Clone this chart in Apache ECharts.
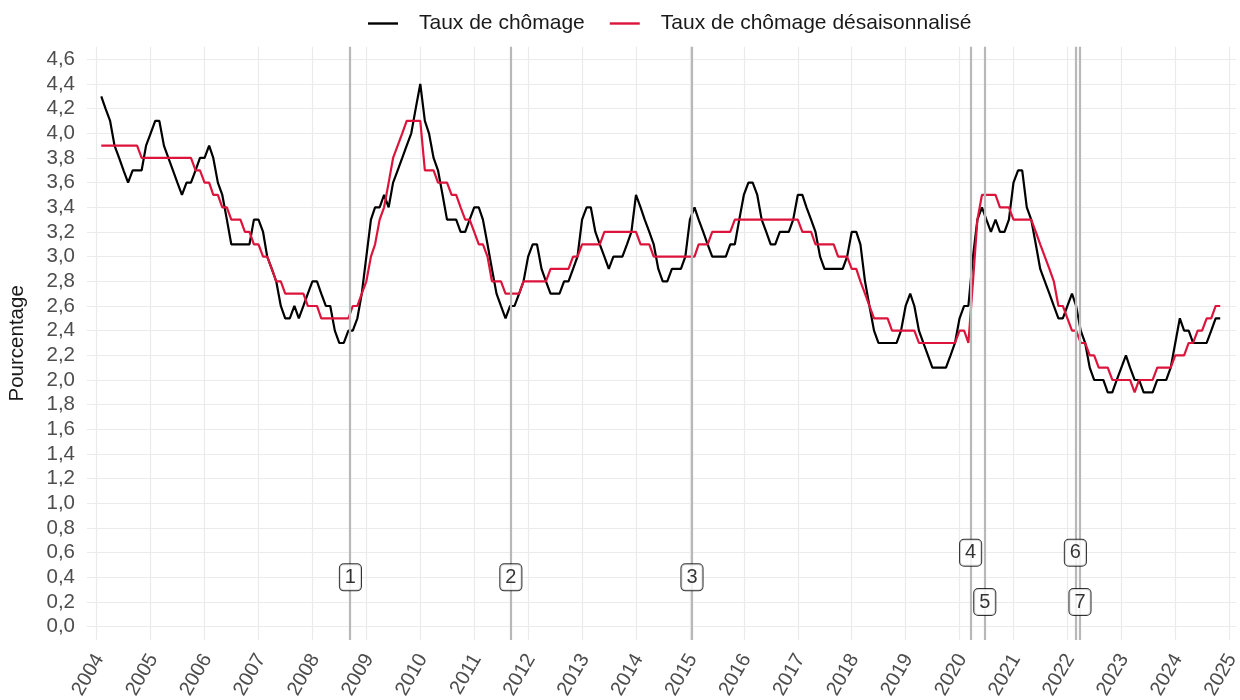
<!DOCTYPE html>
<html><head><meta charset="utf-8">
<script src="https://cdn.jsdelivr.net/npm/echarts@6/dist/echarts.min.js"></script>
<style>html,body{margin:0;padding:0;background:#fff}#c{width:1240px;height:700px}</style>
</head><body><div id="c"></div>
<script>
// ---- data ----
const seriesNames = ['Taux de chômage', 'Taux de chômage désaisonnalisé'];
const firstYear = 2004, firstMonth = 2; // first monthly observation plotted
const rawRate = [
 4.3,4.2,4.1,3.9,3.8,3.7,3.6,3.7,3.7,3.7,3.9,4.0,
 4.1,4.1,3.9,3.8,3.7,3.6,3.5,3.6,3.6,3.7,3.8,3.8,
 3.9,3.8,3.6,3.5,3.3,3.1,3.1,3.1,3.1,3.1,3.3,3.3,
 3.2,3.0,2.9,2.8,2.6,2.5,2.5,2.6,2.5,2.6,2.7,2.8,
 2.8,2.7,2.6,2.6,2.4,2.3,2.3,2.4,2.4,2.5,2.7,3.0,
 3.3,3.4,3.4,3.5,3.4,3.6,3.7,3.8,3.9,4.0,4.2,4.4,
 4.1,4.0,3.8,3.7,3.5,3.3,3.3,3.3,3.2,3.2,3.3,3.4,
 3.4,3.3,3.1,2.9,2.7,2.6,2.5,2.6,2.6,2.7,2.8,3.0,
 3.1,3.1,2.9,2.8,2.7,2.7,2.7,2.8,2.8,2.9,3.0,3.3,
 3.4,3.4,3.2,3.1,3.0,2.9,3.0,3.0,3.0,3.1,3.2,3.5,
 3.4,3.3,3.2,3.1,2.9,2.8,2.8,2.9,2.9,2.9,3.0,3.3,
 3.4,3.3,3.2,3.1,3.0,3.0,3.0,3.0,3.1,3.1,3.3,3.5,
 3.6,3.6,3.5,3.3,3.2,3.1,3.1,3.2,3.2,3.2,3.3,3.5,
 3.5,3.4,3.3,3.2,3.0,2.9,2.9,2.9,2.9,2.9,3.0,3.2,
 3.2,3.1,2.8,2.6,2.4,2.3,2.3,2.3,2.3,2.3,2.4,2.6,
 2.7,2.6,2.4,2.3,2.2,2.1,2.1,2.1,2.1,2.2,2.3,2.5,
 2.6,2.6,3.0,3.3,3.4,3.3,3.2,3.3,3.2,3.2,3.3,3.6,
 3.7,3.7,3.4,3.3,3.1,2.9,2.8,2.7,2.6,2.5,2.5,2.6,
 2.7,2.6,2.4,2.3,2.1,2.0,2.0,2.0,1.9,1.9,2.0,2.1,
 2.2,2.1,2.0,2.0,1.9,1.9,1.9,2.0,2.0,2.0,2.1,2.3,
 2.5,2.4,2.4,2.3,2.3,2.3,2.3,2.4,2.5,2.5
];
const saRate = [
 3.9,3.9,3.9,3.9,3.9,3.9,3.9,3.9,3.9,3.8,3.8,3.8,
 3.8,3.8,3.8,3.8,3.8,3.8,3.8,3.8,3.8,3.7,3.7,3.6,
 3.6,3.5,3.5,3.4,3.4,3.3,3.3,3.3,3.2,3.2,3.1,3.1,
 3.0,3.0,2.9,2.8,2.8,2.7,2.7,2.7,2.7,2.7,2.6,2.6,
 2.6,2.5,2.5,2.5,2.5,2.5,2.5,2.5,2.6,2.6,2.7,2.8,
 3.0,3.1,3.3,3.4,3.6,3.8,3.9,4.0,4.1,4.1,4.1,4.1,
 3.7,3.7,3.7,3.6,3.6,3.6,3.5,3.5,3.4,3.3,3.3,3.2,
 3.1,3.1,3.0,2.8,2.8,2.8,2.7,2.7,2.7,2.7,2.8,2.8,
 2.8,2.8,2.8,2.8,2.9,2.9,2.9,2.9,2.9,3.0,3.0,3.1,
 3.1,3.1,3.1,3.1,3.2,3.2,3.2,3.2,3.2,3.2,3.2,3.2,
 3.1,3.1,3.1,3.0,3.0,3.0,3.0,3.0,3.0,3.0,3.0,3.0,
 3.0,3.1,3.1,3.1,3.2,3.2,3.2,3.2,3.2,3.3,3.3,3.3,
 3.3,3.3,3.3,3.3,3.3,3.3,3.3,3.3,3.3,3.3,3.3,3.3,
 3.2,3.2,3.2,3.1,3.1,3.1,3.1,3.1,3.0,3.0,3.0,2.9,
 2.9,2.8,2.7,2.6,2.5,2.5,2.5,2.5,2.4,2.4,2.4,2.4,
 2.4,2.4,2.3,2.3,2.3,2.3,2.3,2.3,2.3,2.3,2.3,2.4,
 2.4,2.3,2.8,3.3,3.5,3.5,3.5,3.5,3.4,3.4,3.4,3.3,
 3.3,3.3,3.3,3.3,3.2,3.1,3.0,2.9,2.8,2.6,2.6,2.5,
 2.4,2.4,2.3,2.3,2.2,2.2,2.1,2.1,2.1,2.0,2.0,2.0,
 2.0,2.0,1.9,2.0,2.0,2.0,2.0,2.1,2.1,2.1,2.1,2.2,
 2.2,2.2,2.3,2.3,2.4,2.4,2.5,2.5,2.6,2.6
];
const eventDates = ['2008-09-15','2011-09-06','2015-01-15','2020-03-16','2020-06-20','2022-02-24','2022-03-27'];
const eventLabels = ['1','2','3','4','5','6','7'];
const eventLabelLevels = [0.4,0.4,0.4,0.6,0.2,0.6,0.2];

// ---- helpers ----
function decYear(y, m, d) {
  const t = Date.UTC(y, m - 1, d), a = Date.UTC(y, 0, 1), b = Date.UTC(y + 1, 0, 1);
  return y + (t - a) / (b - a);
}
function monthX(i) {
  const k = firstMonth - 1 + i;
  return decYear(firstYear + Math.floor(k / 12), (k % 12) + 1, 1);
}
function dateX(s) { const p = s.split('-').map(Number); return decYear(p[0], p[1], p[2]); }

const rawData = rawRate.map((v, i) => [monthX(i), v]);
const saData = saRate.map((v, i) => [monthX(i), v]);
const eventX = eventDates.map(dateX);
const labelData = eventX.map((x, i) => [x, eventLabelLevels[i], eventLabels[i]]);

const FONT = "'Liberation Sans', Arial, sans-serif";
const chart = echarts.init(document.getElementById('c'), null, { renderer: 'canvas' });
chart.setOption({
  backgroundColor: '#ffffff',
  animation: false,
  textStyle: { fontFamily: FONT },
  legend: {
    data: seriesNames,
    left: 368, top: 13, padding: 0,
    icon: 'rect', itemWidth: 30, itemHeight: 2.4, itemGap: 25,
    textStyle: { fontFamily: FONT, fontSize: 21, color: '#1a1a1a', padding: [0, 0, 0, 16] }
  },
  grid: { left: 87, right: 4, top: 46.7, bottom: 60, containLabel: false, outerBoundsMode: 'none' },
  xAxis: {
    type: 'value', min: 2003.82, max: 2025.126,
    splitNumber: 21, minInterval: 1, maxInterval: 1,
    axisLine: { show: false }, axisTick: { show: false },
    axisLabel: {
      rotate: 60, margin: 14, fontSize: 20, color: '#4d4d4d', fontFamily: FONT,
      align: 'right', verticalAlign: 'top', lineHeight: 6,
      showMinLabel: false, showMaxLabel: false, hideOverlap: false,
      formatter: v => Math.abs(v - Math.round(v)) < 1e-6 ? String(Math.round(v)) : ''
    },
    splitLine: { show: true, showMinLine: false, showMaxLine: false, lineStyle: { color: '#ebebeb', width: 1.2 } }
  },
  yAxis: {
    type: 'value', min: -0.108, max: 4.702,
    splitNumber: 24, minInterval: 0.2, maxInterval: 0.2,
    name: 'Pourcentage', nameLocation: 'middle', nameRotate: 90, nameGap: 59,
    nameTextStyle: { fontSize: 20.5, color: '#1a1a1a', fontFamily: FONT },
    axisLine: { show: false }, axisTick: { show: false },
    axisLabel: {
      margin: 12, fontSize: 20.5, color: '#4d4d4d', fontFamily: FONT,
      showMinLabel: false, showMaxLabel: false,
      formatter: v => {
        const r = Math.round(v * 5) / 5;
        if (Math.abs(v - r) > 1e-6) return '';
        return r.toFixed(1).replace('.', ',');
      }
    },
    splitLine: { show: true, showMinLine: false, showMaxLine: false, lineStyle: { color: '#ebebeb', width: 1.2 } }
  },
  series: [
    {
      name: 'events', type: 'line', data: [], silent: true, z: 1,
      markLine: {
        silent: true, symbol: ['none', 'none'], animation: false,
        label: { show: false },
        lineStyle: { color: '#b8b8b8', width: 2.2, type: 'solid' },
        emphasis: { disabled: true },
        data: eventX.map(x => ({ xAxis: x }))
      }
    },
    {
      name: seriesNames[0], type: 'line', data: rawData, showSymbol: false, symbol: 'none',
      lineStyle: { color: '#000000', width: 2.2 }, itemStyle: { color: '#000000' }, z: 3
    },
    {
      name: seriesNames[1], type: 'line', data: saData, showSymbol: false, symbol: 'none',
      lineStyle: { color: '#dc143c', width: 2.2 }, itemStyle: { color: '#dc143c' }, z: 4
    },
    {
      name: 'labels', type: 'scatter', data: labelData, symbol: 'rect', symbolSize: 1,
      itemStyle: { color: 'rgba(0,0,0,0)' }, silent: true, z: 10,
      labelLayout: { hideOverlap: false },
      label: {
        show: true, position: 'inside', formatter: p => p.data[2],
        fontFamily: FONT, fontSize: 20, color: '#000',
        backgroundColor: '#ffffff', borderColor: '#000000', borderWidth: 1, borderRadius: 4,
        padding: [4, 5, 2, 5]
      }
    }
  ]
});
</script></body></html>
